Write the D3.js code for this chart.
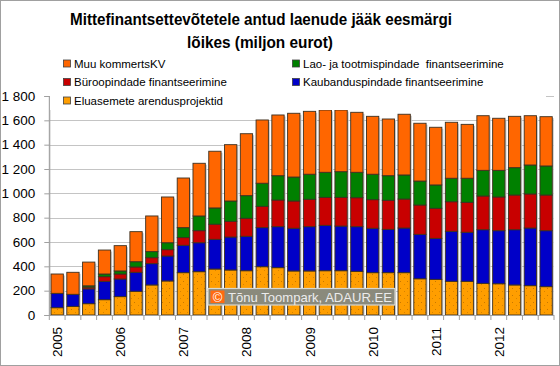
<!DOCTYPE html>
<html><head><meta charset="utf-8">
<script src="https://cdn.jsdelivr.net/npm/d3@7"></script>
<style>body{margin:0;background:#fff}svg{display:block}</style>
</head><body>
<script>
const years = ["2005","2006","2007","2008","2009","2010","2011","2012"];
const quarters = years.flatMap(y => ["Q1","Q2","Q3","Q4"].map(q => y + " " + q));
const yTicks = [0,200,400,600,800,1000,1200,1400,1600,1800];
const seriesNames = ["Eluasemete arendusprojektid","Kaubanduspindade finantseerimine","Büroopindade finantseerimine","Lao- ja tootmispindade  finantseerimine","Muu kommertsKV"];
const elu  = [60,71,93,126,151,195,247,280,348,356,378,370,364,397,389,362,362,364,364,359,348,348,348,298,293,277,277,260,257,247,241,233];
const kaub = [118,99,122,151,145,156,175,205,225,238,244,271,283,321,337,351,364,373,367,367,365,356,367,365,337,411,403,441,436,454,474,460];
const buro = [0,0,14,38,41,44,49,52,63,99,124,129,148,175,219,224,225,230,236,238,235,239,238,241,247,243,246,277,277,285,280,293];
const lao  = [0,0,11,22,25,43,50,57,82,121,134,167,186,190,200,197,206,206,211,209,209,202,198,197,192,193,198,211,219,225,238,239];
const muu  = [159,181,195,197,208,247,293,376,408,433,466,463,509,520,499,524,517,512,507,493,476,466,499,475,474,460,443,449,428,422,405,405];

const colors = ["#FF9E00","#0000C8","#C80000","#008000","#FF6600"];
const seriesData = [elu,kaub,buro,lao,muu];

(function(){
const W=560,H=366;
const svg=d3.select("body").append("svg").attr("width",W).attr("height",H);
const defs=svg.append("defs");
const pat=defs.append("pattern").attr("id","dots").attr("patternUnits","userSpaceOnUse").attr("width",7).attr("height",7);
pat.append("rect").attr("width",7).attr("height",7).attr("fill",colors[0]);
pat.append("rect").attr("x",1).attr("y",1).attr("width",1).attr("height",1).attr("fill","#c87800");
pat.append("rect").attr("x",5).attr("y",4).attr("width",1).attr("height",1).attr("fill","#d88400");

svg.append("rect").attr("x",0.5).attr("y",0.5).attr("width",W-1).attr("height",H-1).attr("fill","#fff").attr("stroke","#a0a0a0");

const pL=49.3,pR=554,pT=96,pB=315;
const x=d3.scaleBand().domain(quarters).range([pL,pR]).paddingInner(0.22).paddingOuter(0.11);
const y=d3.scaleLinear().domain([0,1800]).range([pB,pT]);
const font="Liberation Sans, Arial, sans-serif";

// gridlines
svg.append("g").selectAll("line").data(yTicks.filter(d=>d>0)).join("line")
  .attr("x1",pL).attr("x2",pR).attr("y1",d=>Math.round(y(d))+0.5).attr("y2",d=>Math.round(y(d))+0.5)
  .attr("stroke","#c4c4c4");

// y axis
const yAxis=d3.axisLeft(y).tickValues(yTicks).tickSize(5).tickPadding(9)
  .tickFormat(d=>d3.format(",")(d).replace(/,/g," "));
const ga=svg.append("g").attr("transform",`translate(${pL},0)`).call(yAxis);
ga.select(".domain").attr("stroke","#a0a0a0");
ga.selectAll(".tick line").attr("stroke","#a0a0a0");
ga.selectAll("text").attr("font-family",font).attr("font-size",13.5).attr("fill","#000");

// stack
const rows=quarters.map((q,i)=>{const o={q};seriesData.forEach((s,k)=>o["s"+k]=s[i]);return o;});
const keys=seriesData.map((s,k)=>"s"+k);
const stack=d3.stack().keys(keys)(rows);
const tot=d=>keys.reduce((a,k)=>a+d[k],0);

// shadows
svg.append("g").selectAll("rect").data(rows).join("rect")
  .attr("x",d=>x(d.q)+1.5).attr("width",x.bandwidth())
  .attr("y",d=>y(tot(d))+1.5)
  .attr("height",d=>pB-y(tot(d))-1.5)
  .attr("fill","#c8c8c8");

stack.forEach((layer,k)=>{
  svg.append("g").selectAll("rect").data(layer.filter(d=>d[1]-d[0]>0)).join("rect")
    .attr("x",d=>x(d.data.q)).attr("width",x.bandwidth())
    .attr("y",d=>y(d[1])).attr("height",d=>y(d[0])-y(d[1]))
    .attr("fill",k===0?"url(#dots)":colors[k])
    .attr("stroke","#3c3020").attr("stroke-width",0.9);
});

// x axis
svg.append("line").attr("x1",pL).attr("x2",pR).attr("y1",pB+0.5).attr("y2",pB+0.5).attr("stroke","#a0a0a0");
const step=x.step();
svg.append("g").selectAll("line").data(d3.range(quarters.length+1)).join("line")
  .attr("x1",i=>pL+i*step).attr("x2",i=>pL+i*step).attr("y1",pB).attr("y2",pB+5)
  .attr("stroke","#a0a0a0");
svg.append("line").attr("x1",pL).attr("x2",pL).attr("y1",pT).attr("y2",pB).attr("stroke","#a0a0a0");
svg.append("g").selectAll("text").data(years).join("text")
  .attr("transform",(d)=>`translate(${x(d+" Q1")+x.bandwidth()/2+5},${327}) rotate(-90)`)
  .attr("text-anchor","end").attr("font-family",font).attr("font-size",13.5).text(d=>d);

// legend box
svg.append("rect").attr("x",50).attr("y",54).attr("width",496).attr("height",56).attr("fill","#fff");
const leg=[
  {i:4,x:63,y:63.5},{i:3,x:292,y:63.5},
  {i:2,x:63,y:82},{i:1,x:292,y:82},
  {i:0,x:63,y:100.5}];
const lg=svg.append("g").selectAll("g").data(leg).join("g");
lg.append("rect").attr("x",d=>d.x+0.5).attr("y",d=>d.y-3.5).attr("width",7).attr("height",7)
  .attr("fill",d=>colors[d.i]).attr("stroke","#404040").attr("stroke-width",0.8);
lg.append("text").attr("x",d=>d.x+11).attr("y",d=>d.y+4).attr("font-family",font).attr("font-size",11.5)
  .style("white-space","pre").text(d=>seriesNames[d.i]);

// title
svg.append("text").attr("x",261).attr("y",25).attr("text-anchor","middle").attr("font-family",font)
  .attr("font-weight","bold").attr("font-size",17).attr("textLength",382).attr("lengthAdjust","spacingAndGlyphs")
  .text("Mittefinantsettevõtetele antud laenude jääk eesmärgi");
svg.append("text").attr("x",260).attr("y",47.5).attr("text-anchor","middle").attr("font-family",font)
  .attr("font-weight","bold").attr("font-size",17).attr("textLength",146).attr("lengthAdjust","spacingAndGlyphs")
  .text("lõikes (miljon eurot)");

// watermark
const wm=svg.append("g");
wm.append("rect").attr("x",208).attr("y",288.5).attr("width",187).attr("height",16.5).attr("fill","#8a8a7c").attr("stroke","#d8d8d0").attr("stroke-width",1.2);
wm.append("rect").attr("x",210.5).attr("y",290.5).attr("width",14).attr("height",12.5).attr("fill","#ff6a10");
wm.append("text").attr("x",217.5).attr("y",301.5).attr("text-anchor","middle").attr("font-family",font).attr("font-size",13).attr("fill","#fff").text("©");
wm.append("text").attr("x",228).attr("y",301.5).attr("font-family",font).attr("font-size",13.5).attr("fill","#ececec")
  .attr("textLength",164).attr("lengthAdjust","spacingAndGlyphs").text("Tõnu Toompark, ADAUR.EE");
})();
</script>
</body></html>
